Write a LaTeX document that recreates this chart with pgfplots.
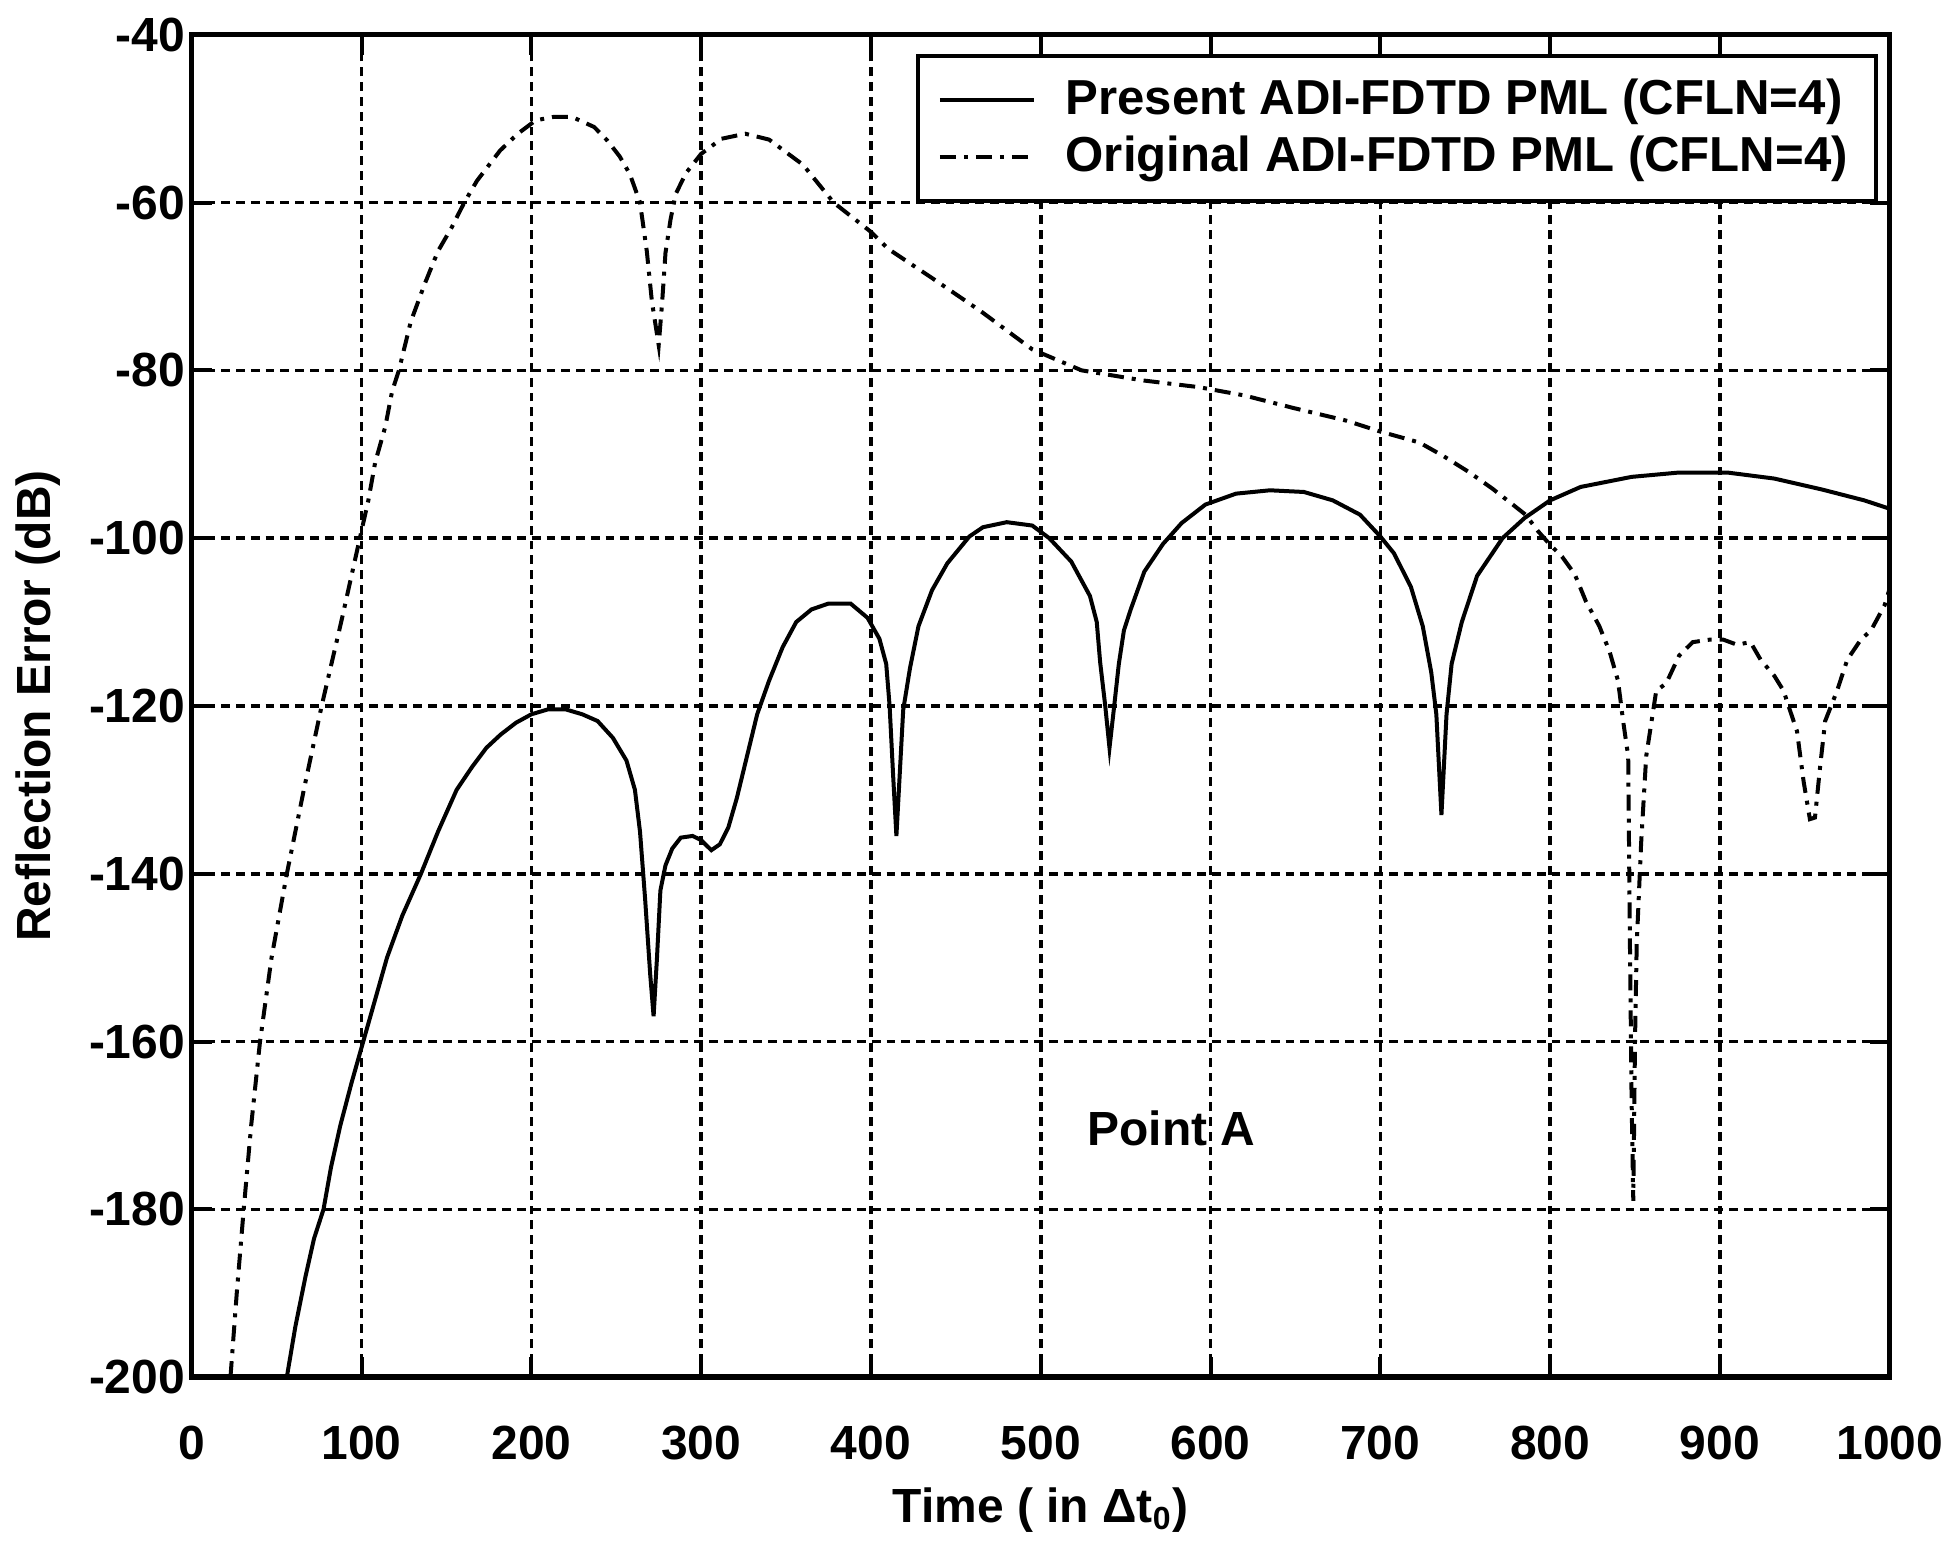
\documentclass[border=0pt]{standalone}
\usepackage{fontspec}
\setmainfont{Liberation Sans}
\usepackage{pgfplots}
\pgfplotsset{compat=1.18}
\newcommand{\chartfont}{\fontsize{12}{14}\selectfont\bfseries}
\begin{document}
\begin{tikzpicture}
\begin{axis}[
  scale only axis,
  width=425pt, height=336pt,
  xmin=0, xmax=1000, ymin=-200, ymax=-40,
  xtick={0,100,...,1000},
  xticklabels={0,100,200,300,400,500,600,700,800,900,1000},
  ytick={-200,-180,...,-40},
  yticklabels={-200,-180,-160,-140,-120,-100,-80,-60,-40},
  tick align=inside,
  major tick length=5pt,
  tick style={line width=1pt,black},
  axis line style={line width=1.3pt},
  grid=major,
  major grid style={line width=0.9pt, black, dash pattern=on 2.2pt off 1.5pt},
  ticklabel style={font=\chartfont},
  xticklabel style={yshift=-8.6pt, inner xsep=0pt},
  yticklabel style={inner xsep=1.5pt},
  label style={font=\chartfont},
  xlabel={Time ( in Δt\textsubscript{0})},
  ylabel={Reflection Error (dB)},
  xlabel style={at={(axis description cs:0.5,-0.099)}, anchor=center},
  ylabel style={at={(axis description cs:-0.0907,0.5)}, anchor=center},
  legend style={at={(axis description cs:0.993,0.986)}, anchor=north east,
    draw=black, line width=1pt, font=\fontsize{12.3}{14}\selectfont\bfseries,
    inner xsep=5pt, inner ysep=3.8pt, row sep=0pt},
  legend cell align=left,
  legend image code/.code={\draw[#1] (0pt,0pt) -- (23.5pt,0pt); \path (29pt,0pt);},
]
\addplot[black, line width=1pt] coordinates {
(56,-200) (61,-194) (67,-188) (72,-183.5) (77.6,-180) (82,-175) (87.5,-170)
(94,-165) (101,-160) (108,-155) (115,-150) (124,-145) (135,-140) (145,-135)
(156,-130) (165,-127.3) (173.5,-125) (182,-123.4) (191,-122) (200,-121)
(210,-120.4) (220,-120.4) (230,-121) (239,-121.8) (248,-123.8) (256,-126.5)
(261,-130) (264,-135) (267,-143) (270,-152) (272,-157) (274,-150) (276,-142) (279,-139)
(283,-137) (288,-135.7) (295,-135.5) (300,-136) (306,-137.2) (311,-136.5)
(316,-134.5) (321,-131) (327,-126) (333,-121) (340,-117) (348,-113) (356,-110)
(365,-108.5) (375,-107.8) (388,-107.8) (398,-109.5) (405,-112) (409,-115)
(411,-120) (413,-128) (415,-135.5) (417,-128) (419,-120.5) (423,-115.5)
(428,-110.5) (436,-106.2) (445,-103) (458,-99.8) (466,-98.7) (480,-98.1)
(495,-98.5) (505,-100) (518,-102.8) (529,-106.9) (533,-110) (535,-114.8)
(538,-120) (540.5,-125) (543,-120.5) (546,-115) (549,-111) (553,-108.5)
(561,-104) (572,-100.7) (583,-98.2) (597,-96) (615,-94.7) (635,-94.3)
(655,-94.5) (672,-95.5) (688,-97.2) (700,-99.8) (708,-101.8) (718,-105.8)
(725,-110.5) (730,-116) (733,-121) (736,-133) (739,-121) (742,-115)
(748,-110) (757,-104.5) (772,-100) (785,-97.6) (800,-95.5) (818,-93.9)
(848,-92.7) (875,-92.2) (905,-92.2) (932,-92.9) (960,-94.2) (985,-95.5)
(1000,-96.5)
};
\addlegendentry{Present ADI-FDTD PML (CFLN=4)}
\addplot[black, line width=1pt, dash pattern=on 4pt off 2pt on 1pt off 2pt] coordinates {
(22.8,-200) (26.5,-190) (30.6,-180) (35,-170) (40.2,-160) (47,-150)
(56,-140) (66,-130) (76.5,-120) (88,-110) (99,-100) (104,-95.5)
(108,-91) (114,-86.7) (118,-82.5) (122,-80) (129,-74.2) (137,-69.8)
(145,-65.8) (153,-63) (160.5,-60) (168,-57.4) (181.6,-53.8) (192,-51.8)
(202.6,-50.2) (213,-49.8) (224,-49.8) (237,-51) (244.7,-52.6) (252,-54.5)
(258,-56.6) (264,-60) (268,-65.8) (271,-71.8) (275,-77) (277,-72) (279,-66)
(282,-62) (285,-59) (291,-56.5) (300,-54.2) (312,-52.4) (326,-51.8)
(340,-52.5) (360,-55.5) (378,-60) (400,-63.5) (410,-65.5) (436,-69)
(465,-73) (495,-77.5) (524,-80) (560,-81.2) (593,-82) (620,-83) (649,-84.5)
(680,-86) (700,-87.3) (723,-88.6) (737,-90.2) (752,-92.1) (766,-94.1)
(778,-96) (785.5,-97.2) (793,-99.2) (800,-100.8) (807,-102.2) (814.5,-104.3)
(821,-107.5) (829,-110.5) (835,-113.5) (840,-117) (843,-121.8) (846,-126)
(847,-148) (848,-167) (849,-179) (850,-160) (851,-148.5) (853.6,-136.4)
(856.6,-126) (862.5,-118.2) (868.4,-117.3) (876,-114) (884,-112.4)
(894,-112.1) (902,-112.1) (910,-112.7) (918,-112.4) (924,-114.5)
(932,-116.4) (937.5,-118.2) (941.4,-120.6) (945.4,-123) (949.3,-129)
(953,-133.5) (956,-133.3) (959,-127.3) (962,-121.8) (969,-118.2)
(975,-114.5) (983,-112.1) (989,-111) (997,-108) (1000,-106)
};
\addlegendentry{Original ADI-FDTD PML (CFLN=4)}
\node[font=\chartfont] at (axis cs:577,-170.4) {Point A};
\end{axis}
\path ([xshift=-48pt,yshift=-41.2pt]current axis.south west) rectangle ([xshift=12.7pt,yshift=8.7pt]current axis.north east);
\end{tikzpicture}
\end{document}
